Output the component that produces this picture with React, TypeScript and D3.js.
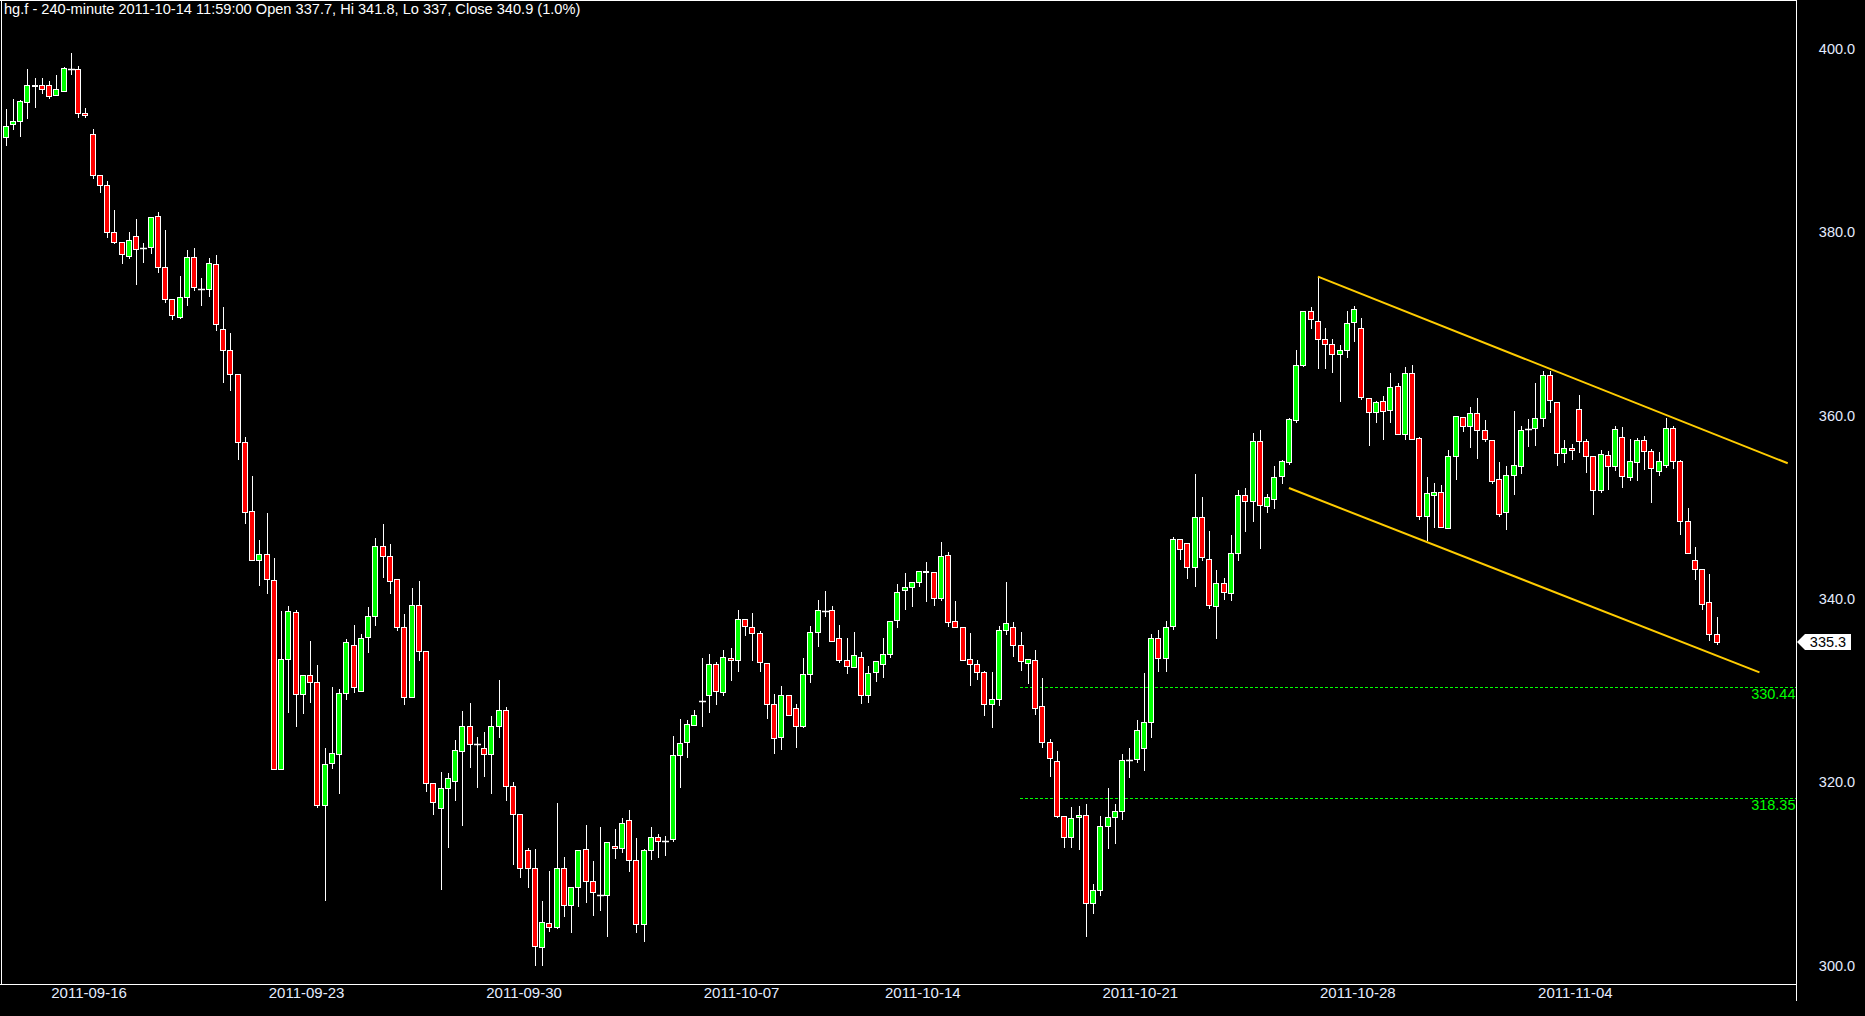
import React from "react";
import * as d3 from "d3";

const opens = [390.4,391.8,392.1,394.2,396.1,396.0,396.1,395.0,395.4,397.8,397.8,393.0,390.7,386.2,385.2,380.0,378.9,377.4,379.6,378.3,378.4,381.8,376.2,372.7,370.7,372.9,377.3,373.8,373.8,376.5,369.4,367.2,364.5,357.1,349.6,344.3,344.9,342.1,321.5,333.5,338.6,329.6,331.7,330.9,317.5,322.1,323.1,329.8,335.0,330.0,335.9,338.2,345.8,344.7,342.2,336.9,329.3,339.3,334.3,319.9,317.2,319.4,320.2,323.4,326.1,324.2,323.8,323.1,326.1,327.9,319.6,316.6,312.6,310.7,302.1,304.7,304.2,310.7,306.6,308.6,312.7,309.3,307.7,307.7,313.1,312.8,315.9,311.5,304.6,312.6,314.1,313.6,313.8,323.0,324.4,326.3,328.9,329.5,332.9,329.9,333.6,333.3,337.8,336.9,336.3,333.0,328.5,324.9,329.5,328.1,326.1,331.8,336.4,338.7,338.8,335.7,333.3,332.6,333.7,329.5,332.0,332.9,334.0,337.7,341.0,341.3,341.8,343.1,342.9,340.1,344.8,337.6,336.9,333.5,332.9,332.0,328.6,329.1,336.6,336.9,335.0,333.0,333.4,328.3,324.4,322.3,316.3,314.0,316.2,316.4,306.9,308.3,315.2,316.2,316.9,322.4,322.5,323.7,326.6,335.7,333.6,337.1,346.5,346.1,343.5,348.9,344.4,339.2,341.7,340.6,345.0,351.3,350.7,357.2,350.1,350.9,353.4,354.9,359.5,365.5,371.4,370.3,368.3,367.8,366.7,367.1,370.2,369.6,361.9,360.4,361.6,360.6,363.2,358.0,364.7,357.6,349.0,351.3,351.7,347.7,355.6,359.9,358.9,360.3,358.4,357.3,353.1,349.5,353.5,354.5,358.5,358.6,359.7,364.4,361.5,355.9,356.5,360.7,357.2,355.6,351.9,355.7,354.5,357.7,353.3,354.9,357.3,356.1,354.0,354.6,358.7,355.1,348.5,344.2,343.3,339.7,336.2];
const highs = [393.4,394.5,394.4,397.8,396.8,396.8,396.5,397.1,398.0,399.5,398.1,393.5,391.3,386.2,385.6,382.4,378.9,380.0,381.4,378.8,381.7,382.2,380.2,372.7,375.2,378.1,378.3,375.0,377.2,377.5,371.8,369.0,364.5,357.7,353.4,346.4,349.4,344.5,338.7,339.2,338.8,331.7,335.4,332.8,323.7,330.4,330.2,335.6,337.2,336.2,339.1,346.7,348.2,346.0,342.2,338.4,341.2,342.0,334.3,319.9,321.1,321.0,324.6,327.8,328.7,324.9,325.5,327.2,331.2,328.2,320.0,316.6,312.8,312.7,307.1,310.3,317.7,311.9,308.6,312.6,315.3,311.4,315.1,313.5,314.9,316.1,317.0,313.9,312.7,315.1,314.4,314.2,325.1,326.9,326.8,327.9,333.6,334.0,333.1,334.4,334.7,338.8,337.8,338.5,336.5,333.0,329.6,330.5,329.5,328.5,333.6,337.1,339.9,340.9,339.2,337.2,335.7,336.4,334.2,332.7,333.2,335.7,337.6,341.6,342.8,341.9,343.1,344.0,342.9,346.2,345.1,339.8,336.9,336.3,333.4,332.2,332.0,337.1,341.8,337.5,336.4,333.5,334.4,331.4,324.7,323.4,316.3,317.3,317.4,317.6,308.9,316.3,319.4,317.6,323.1,323.7,326.8,331.9,336.2,336.6,337.6,346.8,346.5,346.1,353.6,351.1,347.4,343.2,342.3,347.0,351.9,352.1,358.1,358.4,351.5,354.5,355.2,359.7,367.2,371.4,371.8,375.1,369.5,368.4,367.7,371.4,371.9,370.6,361.9,361.6,362.1,364.6,363.6,365.3,365.5,357.7,353.3,352.7,352.4,356.3,360.0,359.9,360.9,361.9,359.5,357.3,354.9,354.5,360.5,358.9,359.6,363.6,364.9,364.9,361.5,357.3,356.9,362.2,357.4,355.6,356.2,356.1,358.9,358.8,357.5,357.6,357.8,356.4,356.0,359.7,358.9,355.2,349.9,345.7,343.3,342.7,338.0];
const lows = [389.5,391.2,390.5,392.4,393.7,395.2,394.6,395.0,395.4,397.3,392.6,392.6,385.9,384.4,379.5,378.8,376.6,377.2,374.3,376.8,377.7,375.7,372.4,370.5,370.6,372.1,373.7,372.1,373.0,369.3,363.7,362.8,355.3,348.3,344.2,341.5,340.6,321.5,321.5,327.7,326.1,327.6,328.8,317.3,307.2,321.6,318.8,329.1,329.9,330.0,334.2,337.2,342.4,340.6,336.6,328.5,329.3,333.4,319.1,316.6,308.4,313.0,318.1,315.4,321.7,319.5,320.7,318.8,325.0,318.1,311.1,309.7,308.6,300.1,300.1,303.8,304.1,305.4,303.7,306.5,307.0,305.5,306.1,303.3,311.8,312.4,310.3,303.7,302.7,311.6,311.9,312.1,313.6,319.5,322.8,326.3,326.1,327.7,328.5,329.5,331.2,332.2,336.1,333.3,332.2,327.0,323.2,323.6,327.3,323.9,326.0,331.0,334.9,338.2,335.4,333.1,331.9,332.6,328.7,328.8,331.1,331.5,333.7,337.0,338.9,339.2,341.4,339.8,339.4,339.9,337.1,336.9,333.3,330.6,331.3,327.3,326.0,328.4,336.2,333.8,332.3,330.8,327.5,323.9,320.7,316.2,313.0,313.0,312.7,303.2,305.8,307.7,312.9,313.4,316.0,320.6,322.2,321.3,325.0,332.2,332.2,336.7,344.4,342.3,341.4,344.2,339.0,335.8,340.0,339.9,344.3,347.4,348.5,345.6,349.5,349.9,352.6,354.7,359.3,365.4,369.6,365.2,365.2,364.8,361.6,366.4,368.1,361.8,356.8,359.3,357.4,359.3,358.0,357.4,357.5,348.7,346.4,347.8,347.9,347.7,353.1,358.3,356.6,355.4,357.2,352.6,349.0,347.6,351.4,353.7,356.7,356.8,358.9,360.4,354.6,354.9,355.3,356.0,353.8,349.3,351.7,352.0,354.1,352.2,353.0,353.0,354.2,350.6,353.5,354.4,354.3,347.1,345.0,342.2,338.9,335.5,335.1];
const closes = [391.6,392.1,394.3,396.1,395.9,395.6,394.9,395.6,397.9,397.8,393.0,392.8,386.2,385.2,380.0,378.9,377.6,379.1,378.2,378.3,381.7,376.2,372.7,371.0,372.9,377.3,374.0,373.8,376.6,370.0,367.1,364.5,357.1,349.5,344.2,344.9,342.2,321.5,333.5,338.7,329.6,331.7,330.9,317.5,322.0,323.2,329.8,335.3,330.4,335.8,338.2,345.8,344.7,342.0,336.9,329.3,339.3,334.3,319.9,317.9,319.4,320.5,323.5,326.1,324.2,324.2,323.1,326.1,327.9,319.6,316.5,310.7,310.7,302.2,304.8,304.2,310.7,306.6,308.6,312.6,309.3,308.0,307.7,313.5,312.8,315.6,311.5,304.6,312.6,314.0,313.6,313.6,323.0,324.3,326.4,327.3,328.9,332.9,330.0,333.7,333.3,337.8,337.1,336.3,333.1,328.5,324.8,329.5,327.3,326.1,331.8,336.4,338.8,338.7,335.4,333.3,332.7,333.9,329.5,331.9,333.2,334.0,337.6,340.8,341.3,341.8,343.0,342.9,340.1,344.7,337.5,336.9,333.3,332.9,332.0,328.6,329.1,336.6,337.4,335.0,333.2,333.5,328.1,324.4,322.7,316.3,314.0,316.1,316.4,306.9,308.3,315.2,316.2,316.9,322.4,322.4,325.7,326.6,335.7,333.6,336.9,346.5,345.5,343.5,348.9,344.6,339.3,341.7,340.8,345.0,351.3,350.7,357.2,350.2,351.1,353.3,355.0,359.6,365.5,371.4,370.5,368.3,367.8,366.7,367.1,370.1,371.6,362.0,360.4,361.5,360.5,363.1,358.0,364.7,357.5,349.0,351.6,351.7,347.9,355.6,360.0,358.9,360.3,358.4,357.4,352.9,349.3,353.5,354.6,358.4,358.5,359.7,364.4,361.7,355.9,356.5,356.3,357.2,355.6,351.9,355.8,354.5,358.5,353.4,355.0,357.3,356.1,354.3,355.0,358.6,355.1,348.5,345.0,343.3,339.5,336.2,335.3];

const dateTickBars = [11, 41, 71, 101, 126, 156, 186, 216];
const dateTickLabels = ["2011-09-16", "2011-09-23", "2011-09-30", "2011-10-07", "2011-10-14", "2011-10-21", "2011-10-28", "2011-11-04"];
const priceTicks = [300, 320, 340, 360, 380, 400];
const levelValues = [330.44, 318.35];
const channelStartBars = [181, 177];
const channelStartPrices = [375.15, 352.1];
const channelEndBars = [245.8, 241.9];
const channelEndPrices = [354.8, 332.0];
const titleText = "hg.f - 240-minute 2011-10-14 11:59:00 Open 337.7, Hi 341.8, Lo 337, Close 340.9 (1.0%)";

const W = 1865;
const H = 1016;
const plotRight = 1796;
const plotBottom = 984;
const FONT = "Arial, 'Liberation Sans', sans-serif";

export default function App() {
  const n = closes.length;
  const x = d3.scaleLinear().domain([0, n - 1]).range([5.7, 5.7 + (n - 1) * 7.25]);
  const y = d3.scaleLinear().domain([300, 400]).range([965.8, 48.8]);
  const fmt = d3.format(".1f");
  const lastClose = closes[n - 1];
  const ly = y(lastClose);
  const line = d3.line<[number, number]>().x((d) => x(d[0])).y((d) => y(d[1]));

  return (
    <svg width={W} height={H} style={{ position: "absolute", left: 0, top: 0, background: "#000", display: "block" }}>
      <rect x={0} y={0} width={W} height={H} fill="#000" />
      {/* frame */}
      <line x1={0} y1={0.5} x2={plotRight} y2={0.5} stroke="#fff" strokeWidth={1} />
      <line x1={1.5} y1={0} x2={1.5} y2={plotBottom + 0.5} stroke="#fff" strokeWidth={1} />
      <line x1={0} y1={plotBottom + 0.5} x2={plotRight} y2={plotBottom + 0.5} stroke="#fff" strokeWidth={1} />
      <line x1={plotRight + 0.5} y1={0} x2={plotRight + 0.5} y2={1001} stroke="#fff" strokeWidth={1} />

      {/* level lines */}
      {levelValues.map((v, k) => {
        const yy = Math.round(y(v)) + 0.5;
        return (
          <g key={"lv" + k}>
            <line x1={1020} y1={yy} x2={plotRight} y2={yy} stroke="#00ff00" strokeWidth={1} strokeDasharray="3,2" />
            <text x={plotRight - 0.5} y={yy + 11.5} textAnchor="end" fill="#00ff00" fontFamily={FONT} fontSize={14.5}>
              {v.toFixed(2)}
            </text>
          </g>
        );
      })}

      {/* candles */}
      {closes.map((c, i) => {
        const o = opens[i];
        const cx = Math.round(x(i)) + 0.5;
        const yh = Math.round(y(highs[i])) + 0.5;
        const yl = Math.round(y(lows[i])) + 0.5;
        const yt = Math.round(y(Math.max(o, c))) + 0.5;
        const yb = Math.round(y(Math.min(o, c))) + 0.5;
        const up = c >= o;
        return (
          <g key={i}>
            <line x1={cx} y1={yh - 0.5} x2={cx} y2={yl + 0.5} stroke="#fff" strokeWidth={1} />
            {yb - yt < 1 ? (
              <line x1={cx - 3.5} y1={yt} x2={cx + 3.5} y2={yt} stroke="#fff" strokeWidth={1.5} />
            ) : (
              <rect x={cx - 3} y={yt} width={5} height={yb - yt} fill={up ? "#00ff00" : "#ff0000"} stroke="#fff" strokeWidth={1} />
            )}
          </g>
        );
      })}

      {/* channel lines */}
      {channelStartBars.map((b, k) => (
        <path
          key={"ch" + k}
          d={line([[b, channelStartPrices[k]], [channelEndBars[k], channelEndPrices[k]]]) || ""}
          stroke="#ffcc00"
          strokeWidth={2}
          fill="none"
        />
      ))}

      {/* price axis labels */}
      {priceTicks.map((t) => (
        <text key={t} x={1837} y={y(t) + 5} textAnchor="middle" fill="#e4ecff" fontFamily={FONT} fontSize={14.5}>
          {fmt(t)}
        </text>
      ))}

      {/* last price marker */}
      <path
        d={`M${plotRight + 1},${ly} L${plotRight + 9},${ly - 8} L1851,${ly - 8} L1851,${ly + 8} L${plotRight + 9},${ly + 8} Z`}
        fill="#fff"
      />
      <text x={1828} y={ly + 5} textAnchor="middle" fill="#000" fontFamily={FONT} fontSize={14.5}>
        {fmt(lastClose)}
      </text>

      {/* date axis labels */}
      {dateTickBars.map((b, k) => (
        <text key={"d" + k} x={x(b + 0.5)} y={997.5} textAnchor="middle" fill="#e4ecff" fontFamily={FONT} fontSize={15}>
          {dateTickLabels[k]}
        </text>
      ))}

      {/* title */}
      <text x={4} y={14} fill="#fff" fontFamily={FONT} fontSize={14.6}>
        {titleText}
      </text>
    </svg>
  );
}
